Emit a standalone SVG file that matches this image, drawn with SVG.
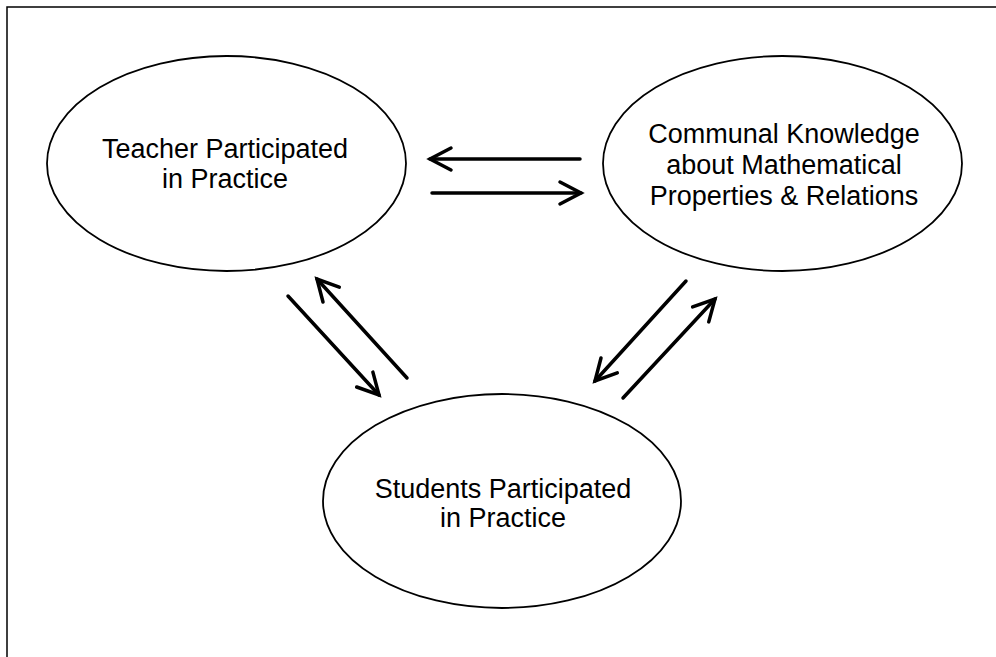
<svg xmlns="http://www.w3.org/2000/svg" width="996" height="657" viewBox="0 0 996 657">
<style>
.node ellipse{fill:#fff;stroke:#000;stroke-width:1.8}
.node text{font-family:"Liberation Sans",Arial,sans-serif;font-size:27px;fill:#000;text-anchor:middle}
.conn line{stroke:#000;stroke-width:3.5;stroke-linecap:round;marker-end:url(#ah)}
.frame{stroke:#000;stroke-width:1.5;fill:none}
</style>
<defs>
<marker id="ah" markerUnits="userSpaceOnUse" viewBox="-30 -20 40 40" refX="0" refY="0" markerWidth="40" markerHeight="40" orient="auto" overflow="visible">
<path d="M-21,-11 L0,0 L-21,11" fill="none" stroke="#000" stroke-width="3.5" stroke-linecap="round" stroke-linejoin="miter"/>
</marker>
</defs>
<rect width="996" height="657" fill="#fff"/>
<path class="frame" d="M7,657 L7,7 L996,7"/>
<g id="teacher" class="node">
<ellipse cx="226.5" cy="163.5" rx="179.5" ry="107.5"/>
<text x="225" y="158">Teacher Participated</text>
<text x="225" y="188">in Practice</text>
</g>
<g id="communal" class="node">
<ellipse cx="782.5" cy="163.5" rx="179.5" ry="107.5"/>
<text x="784" y="143">Communal Knowledge</text>
<text x="784" y="174">about Mathematical</text>
<text x="784" y="205">Properties &amp; Relations</text>
</g>
<g id="students" class="node">
<ellipse cx="502" cy="501" rx="179" ry="107"/>
<text x="503" y="498">Students Participated</text>
<text x="503" y="527">in Practice</text>
</g>
<g id="connectors" class="conn">
<line x1="580" y1="159" x2="430" y2="159"/>
<line x1="432" y1="193" x2="581" y2="193"/>
<line x1="288" y1="296" x2="379" y2="395"/>
<line x1="407" y1="378" x2="317" y2="279"/>
<line x1="686" y1="281" x2="595" y2="381"/>
<line x1="623" y1="398" x2="715" y2="299"/>
</g>
</svg>
